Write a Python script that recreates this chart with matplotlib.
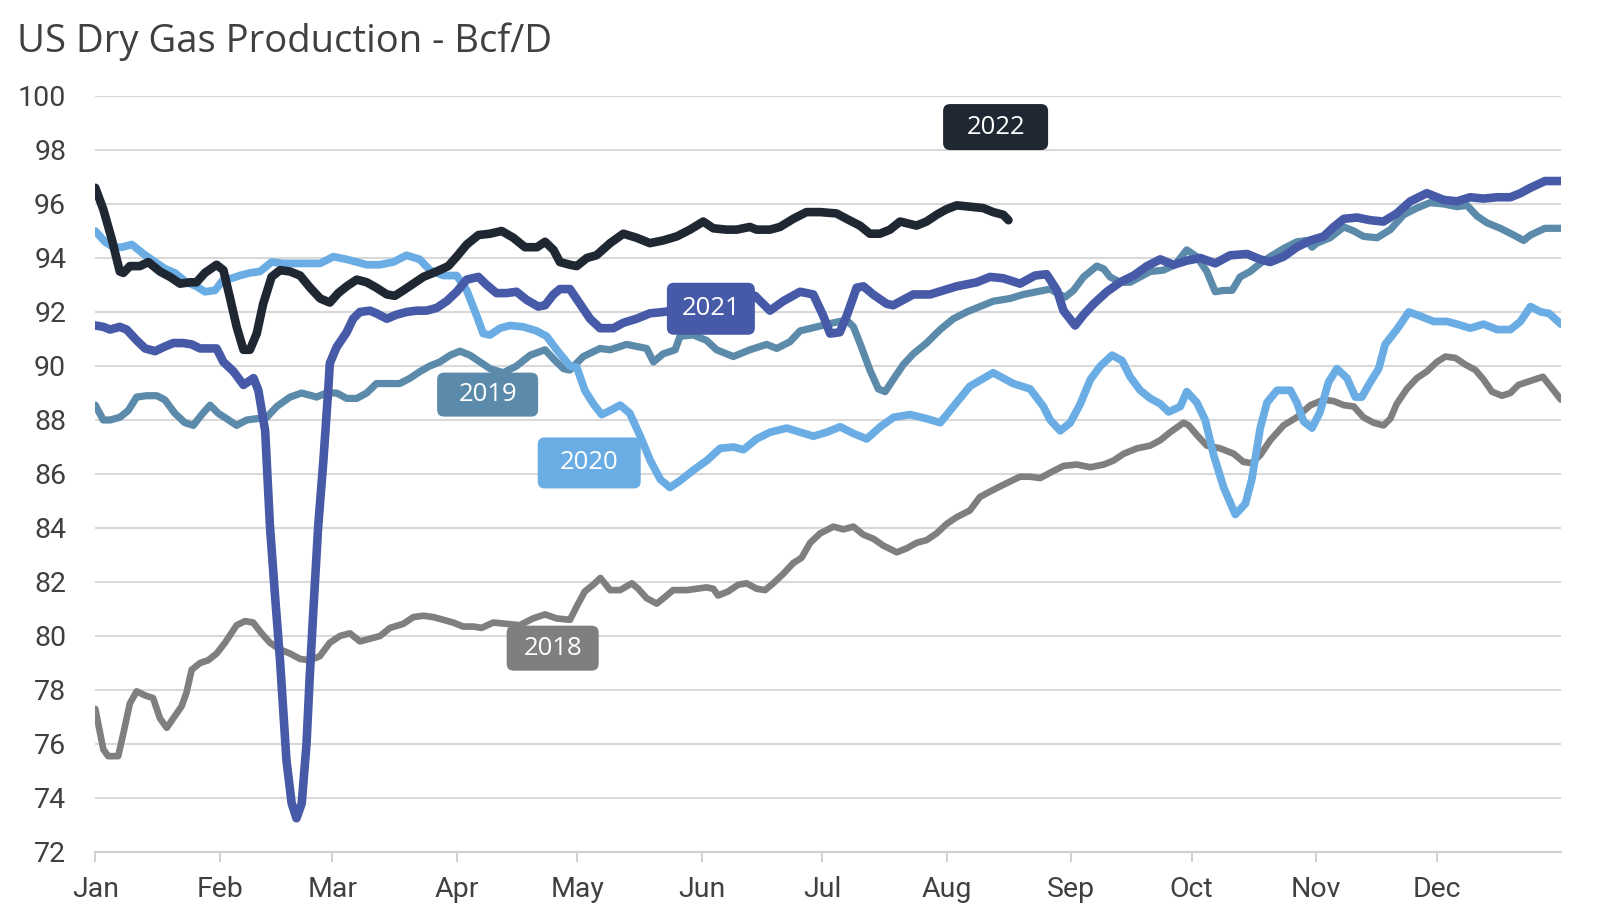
import matplotlib
matplotlib.use("Agg")
import matplotlib.pyplot as plt
from matplotlib.patches import FancyBboxPatch

# day of year -> Bcf/D
days_2018 = [0, 1.2, 2, 3.2, 5.7, 7, 8.6, 10.3, 12.4, 14.4, 16.1, 17.8, 19.4, 21.5, 22.7, 24, 26.1, 28.1,
             30.2, 32.3, 35.2, 37.3, 39.3, 41.4, 43.5, 46, 48.5, 51, 53.4, 55.9, 58.4, 60.9, 63.4, 65.9,
             68.4, 70.9, 73.4, 76.7, 79.2, 81.7, 84.2, 86.6, 89.1, 91.6, 94.1, 96.2, 99.1, 102.4, 105.7,
             109, 112, 114.9, 118.2, 119.9, 121.9, 124, 125.8, 128.2, 130.7, 133.6, 135.2, 137.3, 139.8,
             141.9, 143.9, 147.3, 149.7, 152.2, 153.9, 155.1, 157.6, 160.1, 162.2, 164.7, 166.8, 168.8,
             171.3, 173.8, 175.9, 178, 180.5, 183.8, 186.3, 188.8, 191.3, 193.8, 196.2, 199.6, 202.1,
             204.5, 207, 209.5, 212, 214.5, 217.8, 220.3, 222.8, 226.1, 230.3, 232.8, 235.3, 237.8,
             241.1, 244.4, 247.8, 251.1, 253.6, 256.1, 259.4, 262.7, 265.2, 267.7, 271, 272.3, 274.3,
             276.8, 280.1, 283.5, 285.9, 288, 290.1, 292.6, 295.9, 299.2, 302.6, 305.9, 308.4, 310.9,
             313.4, 315.8, 318.3, 320.8, 322.5, 324.1, 326.6, 329.1, 331.6, 334.1, 336.2, 338.7, 341.2,
             343.7, 345.7, 347.8, 350.3, 352.4, 354.4, 357.4, 360.5, 365]
vals_2018 = [77.3, 76.4, 75.8, 75.55, 75.55, 76.4, 77.5, 77.95, 77.8, 77.7, 76.95, 76.6, 76.95, 77.4, 77.9,
             78.75, 79.0, 79.1, 79.35, 79.75, 80.4, 80.55, 80.5, 80.1, 79.75, 79.5, 79.35, 79.15, 79.1,
             79.25, 79.75, 80.0, 80.1, 79.8, 79.9, 80.0, 80.3, 80.45, 80.7, 80.75, 80.7, 80.6, 80.5,
             80.35, 80.35, 80.3, 80.5, 80.45, 80.4, 80.65, 80.8, 80.65, 80.6, 81.1, 81.65, 81.9, 82.15,
             81.7, 81.7, 81.95, 81.75, 81.4, 81.2, 81.45, 81.7, 81.7, 81.75, 81.8, 81.75, 81.5, 81.65,
             81.9, 81.95, 81.75, 81.7, 81.95, 82.3, 82.7, 82.9, 83.45, 83.8, 84.05, 83.95, 84.05, 83.75,
             83.6, 83.35, 83.1, 83.25, 83.45, 83.55, 83.8, 84.15, 84.4, 84.65, 85.15, 85.35, 85.6, 85.9,
             85.9, 85.85, 86.05, 86.3, 86.35, 86.25, 86.35, 86.5, 86.75, 86.95, 87.05, 87.25, 87.55,
             87.9, 87.8, 87.45, 87.05, 86.95, 86.75, 86.45, 86.4, 86.7, 87.25, 87.8, 88.1, 88.55, 88.75,
             88.7, 88.55, 88.5, 88.1, 87.9, 87.8, 88.05, 88.6, 89.15, 89.55, 89.8, 90.15, 90.35, 90.3,
             90.05, 89.85, 89.5, 89.05, 88.9, 89.0, 89.3, 89.45, 89.6, 88.75]

days_2019 = [0, 2, 3.7, 6.1, 8.2, 10.3, 12.8, 15.3, 17.3, 19.8, 22.3, 24.4, 26.5, 28.6, 30.6, 32.7, 35.2,
             37.7, 40.2, 42.7, 45.2, 48.5, 51.4, 55.1, 57.6, 60.1, 62.6, 65.1, 67.6, 70, 72.6, 75.8,
             78.4, 80.9, 83.3, 85.8, 88.4, 90.8, 93.3, 95.8, 98.3, 101.6, 104.9, 108.3, 112, 114.5,
             116.6, 118.2, 121.5, 125.7, 128.2, 132.3, 137.3, 139, 141.4, 144.4, 145.6, 148.9, 152.2,
             154.7, 158.9, 163, 167.2, 169.7, 173, 175.5, 179.6, 183.8, 187.1, 188.8, 190.4, 192.9, 195,
             196.7, 198.7, 201.2, 203.7, 207, 210.4, 213.7, 217, 220.3, 223.6, 227.8, 231.1, 234.4,
             237.8, 239.5, 241.5, 243.6, 246.1, 249.4, 251.1, 252.7, 255.2, 257.7, 260.2, 262.7, 266,
             268.9, 271.8, 274.3, 276.8, 278.9, 281, 283.1, 285.1, 287.6, 290.1, 292.6, 295.9, 299.2,
             301.7, 303, 304.2, 307.5, 310.9, 313.4, 315.8, 319.2, 322.5, 325.8, 329.1, 332.4, 335.8,
             339.1, 341.6, 344.1, 346.6, 349.9, 353.2, 355.7, 357.4, 361, 365]
vals_2019 = [88.55, 88.0, 88.0, 88.1, 88.35, 88.85, 88.9, 88.9, 88.75, 88.25, 87.9, 87.8, 88.2, 88.55,
             88.25, 88.05, 87.8, 88.0, 88.05, 88.1, 88.5, 88.85, 89.0, 88.85, 89.0, 89.0, 88.8, 88.8,
             89.0, 89.35, 89.35, 89.35, 89.55, 89.8, 90.0, 90.15, 90.4, 90.55, 90.4, 90.15, 89.9, 89.75,
             90.0, 90.4, 90.6, 90.2, 89.9, 89.85, 90.35, 90.65, 90.6, 90.8, 90.65, 90.15, 90.45, 90.6,
             91.1, 91.15, 90.95, 90.6, 90.35, 90.6, 90.8, 90.65, 90.9, 91.3, 91.45, 91.6, 91.7, 91.45,
             90.85, 89.85, 89.15, 89.05, 89.5, 90.05, 90.45, 90.85, 91.35, 91.75, 92.0, 92.2, 92.4, 92.5,
             92.65, 92.75, 92.85, 92.7, 92.55, 92.8, 93.3, 93.7, 93.6, 93.3, 93.1, 93.1, 93.3, 93.5,
             93.55, 93.75, 94.3, 94.05, 93.5, 92.75, 92.8, 92.8, 93.3, 93.5, 93.8, 94.05, 94.35, 94.6,
             94.65, 94.4, 94.55, 94.75, 95.15, 95.0, 94.8, 94.75, 95.05, 95.6, 95.85, 96.05, 96.0, 95.9,
             95.95, 95.55, 95.3, 95.1, 94.85, 94.65, 94.85, 95.1, 95.1]

days_2020 = [0, 2.4, 4.5, 6.6, 9.1, 12, 14.9, 17.4, 19.8, 22.7, 25.2, 27.3, 29.8, 31.9, 34, 36, 38.5, 41,
             43.9, 46.8, 50.1, 53.5, 56, 59.3, 62.6, 65.1, 67.6, 70.9, 74.2, 77.5, 80.8, 83.3, 86.7, 90,
             92.5, 95, 96.6, 98.3, 100.8, 103.2, 106.6, 109.9, 112.4, 114.9, 118.2, 119.9, 121.9, 124,
             126.1, 128.2, 130.7, 133.1, 135.7, 138.2, 140.7, 143.1, 145.6, 149, 152.3, 155.6, 158.9,
             161.4, 164.7, 168.1, 172.2, 175.5, 178.8, 182.2, 185.5, 188.8, 192.1, 195.5, 198.8, 202.9,
             207, 210.4, 213.7, 217.8, 223.6, 228.6, 232.8, 236.1, 237.8, 240.3, 242.8, 245.3, 247.8,
             250.3, 253.2, 255.7, 257.7, 260.2, 262.7, 265.2, 267.3, 270.2, 271.8, 274.3, 276.4, 278.5,
             281, 283.9, 286.4, 288, 290.1, 291.8, 294.3, 297.6, 299.2, 300.9, 303, 305, 307.1, 309.2,
             311.7, 313.8, 315.4, 317.5, 319.6, 321.2, 324.1, 327.1, 329.9, 333.3, 336.6, 339.1, 342.4,
             345.7, 349.1, 352.4, 354.9, 357.4, 360, 362, 365]
vals_2020 = [95.0, 94.6, 94.4, 94.4, 94.5, 94.15, 93.85, 93.6, 93.45, 93.1, 92.95, 92.75, 92.8, 93.2,
             93.25, 93.35, 93.45, 93.5, 93.85, 93.8, 93.8, 93.8, 93.8, 94.05, 93.95, 93.85, 93.75, 93.75,
             93.85, 94.1, 93.95, 93.55, 93.35, 93.35, 92.8, 91.85, 91.2, 91.15, 91.4, 91.5, 91.45, 91.3,
             91.1, 90.6, 90.0, 89.95, 89.1, 88.6, 88.2, 88.35, 88.55, 88.25, 87.4, 86.5, 85.8, 85.5,
             85.75, 86.15, 86.5, 86.95, 87.0, 86.9, 87.3, 87.55, 87.7, 87.55, 87.4, 87.55, 87.75, 87.5,
             87.3, 87.75, 88.1, 88.2, 88.05, 87.9, 88.5, 89.25, 89.75, 89.35, 89.15, 88.5, 88.0, 87.6,
             87.9, 88.6, 89.5, 90.0, 90.4, 90.2, 89.6, 89.1, 88.8, 88.6, 88.3, 88.5, 89.05, 88.65, 88.0,
             86.7, 85.5, 84.5, 84.9, 85.8, 87.7, 88.65, 89.1, 89.1, 88.65, 87.95, 87.7, 88.3, 89.4,
             89.9, 89.55, 88.85, 88.85, 89.4, 89.9, 90.8, 91.35, 92.0, 91.85, 91.65, 91.65, 91.55, 91.4,
             91.55, 91.35, 91.35, 91.65, 92.2, 92.0, 91.95, 91.55]

days_2021 = [0, 2, 3.7, 6.1, 7.8, 10.3, 12.4, 14.9, 17, 19.4, 21.9, 24, 26.1, 28.1, 30.2, 31.9, 34.4,
             36.9, 39.4, 40.6, 42.3, 43.5, 44.7, 46, 47.6, 48.9, 50.1, 51.4, 52.6, 53.4, 54.3, 55.5,
             56.8, 58, 58.4, 60.1, 62.6, 64.2, 65.9, 68.4, 70, 72.6, 75, 77.5, 80, 82.5, 85, 87.5, 90,
             92.5, 95.4, 97.5, 99.9, 102.4, 104.9, 107.4, 110.3, 112, 114.1, 115.7, 118.2, 120.7, 123.2,
             125.7, 129, 131.5, 134.8, 138.1, 141.4, 144, 149, 155, 160, 164.3, 168, 171.3, 175.5, 178.8,
             181.3, 183, 185.4, 187.1, 189.6, 191.3, 193.7, 197.1, 198.7, 201.2, 203.7, 207.9, 211.2,
             214.5, 219.5, 222.8, 226.1, 230.3, 234, 236.9, 239.5, 241.1, 244, 246.1, 248.6, 251.9,
             255.2, 258.6, 261.9, 265.2, 268.5, 271.8, 275.2, 278.9, 282.6, 286.8, 290.1, 292.6, 295.9,
             299.2, 302.6, 305.9, 308.4, 310.9, 314.2, 317.5, 320.8, 324.1, 327.5, 331.6, 335.8, 339.1,
             342.4, 345.7, 349.1, 352.4, 354.9, 357.4, 361, 365]
vals_2021 = [91.5, 91.45, 91.35, 91.45, 91.35, 90.95, 90.65, 90.55, 90.7, 90.85, 90.85, 90.8, 90.65,
             90.65, 90.65, 90.15, 89.8, 89.3, 89.55, 89.1, 87.6, 84.05, 81.6, 79.1, 75.4, 73.8, 73.25,
             73.8, 76.0, 78.5, 80.95, 84.05, 86.5, 89.1, 90.1, 90.7, 91.25, 91.75, 92.0, 92.05, 91.95,
             91.75, 91.9, 92.0, 92.05, 92.05, 92.15, 92.4, 92.75, 93.2, 93.3, 93.0, 92.7, 92.7, 92.75,
             92.45, 92.2, 92.25, 92.65, 92.85, 92.85, 92.3, 91.75, 91.4, 91.4, 91.6, 91.75, 91.95, 92.0,
             92.05, 92.15, 92.25, 92.4, 92.6, 92.05, 92.4, 92.75, 92.65, 91.85, 91.2, 91.25, 91.85, 92.9,
             92.95, 92.65, 92.3, 92.25, 92.45, 92.65, 92.65, 92.8, 92.95, 93.1, 93.3, 93.25, 93.05,
             93.35, 93.4, 92.8, 92.05, 91.5, 91.9, 92.3, 92.75, 93.1, 93.35, 93.7, 93.95, 93.75, 93.9,
             94.0, 93.8, 94.1, 94.15, 93.95, 93.85, 94.05, 94.4, 94.65, 94.8, 95.15, 95.45, 95.5, 95.4,
             95.35, 95.65, 96.1, 96.4, 96.15, 96.1, 96.25, 96.2, 96.25, 96.25, 96.4, 96.6, 96.85, 96.85]

days_2022 = [0, 2, 4.1, 6.1, 7, 8.6, 11.1, 13.2, 16.1, 18.6, 21.1, 23.6, 25.2, 27.3, 30.2, 31.9, 33.5,
             35.2, 36.9, 38.5, 40.2, 41.8, 43.9, 46, 48.5, 51, 53.5, 56, 58.4, 60.5, 62.6, 65.1, 67.6,
             70, 72.6, 74.6, 76.7, 79.2, 81.7, 85, 87.9, 90, 92.5, 95.4, 98.3, 101.2, 104.1, 107, 110,
             112, 114.1, 115.7, 118.2, 119.9, 122.4, 124.8, 128.2, 131.5, 134.8, 138.1, 141.4, 144.8,
             148.1, 151.4, 153.9, 157.2, 159.7, 163, 164.7, 168, 170.5, 173.8, 177.1, 180.5, 184.6,
             187.1, 190.4, 192.9, 195.4, 197.9, 200.4, 204.5, 207, 209.5, 211.9, 214.5, 217.8, 221.1,
             223.6, 226.1, 227.4]
vals_2022 = [96.6, 95.8, 94.7, 93.5, 93.45, 93.7, 93.7, 93.85, 93.5, 93.3, 93.05, 93.1, 93.1, 93.45,
             93.75, 93.55, 92.55, 91.45, 90.6, 90.6, 91.2, 92.3, 93.3, 93.55, 93.5, 93.35, 92.9, 92.5,
             92.35, 92.7, 92.95, 93.2, 93.1, 92.9, 92.65, 92.6, 92.8, 93.05, 93.3, 93.5, 93.7, 94.05,
             94.5, 94.85, 94.9, 95.0, 94.75, 94.4, 94.4, 94.6, 94.3, 93.85, 93.75, 93.7, 94.0, 94.1,
             94.55, 94.9, 94.75, 94.55, 94.65, 94.8, 95.05, 95.35, 95.1, 95.05, 95.05, 95.15, 95.05,
             95.05, 95.15, 95.45, 95.7, 95.7, 95.65, 95.45, 95.2, 94.9, 94.9, 95.05, 95.35, 95.2, 95.35,
             95.6, 95.8, 95.95, 95.9, 95.85, 95.7, 95.6, 95.4]

years = ["2018", "2019", "2020", "2021", "2022"]
colors = ["#7f7f7f", "#5b8aab", "#6aade5", "#475aa8", "#1f2733"]
widths = [4.8, 5.2, 5.6, 6.2, 6.2]
series_days = [days_2018, days_2019, days_2020, days_2021, days_2022]
series_vals = [vals_2018, vals_2019, vals_2020, vals_2021, vals_2022]

# label boxes: (x day, y value, width px, height px)
tags = {"2018": (113.9, 79.55, 92, 45), "2019": (97.7, 88.94, 101, 44), "2020": (123, 86.41, 103, 51),
        "2021": (153.3, 92.12, 88, 52), "2022": (224.2, 98.85, 105, 46)}

month_days = [0, 31, 59, 90, 120, 151, 181, 212, 243, 273, 304, 334]
month_names = ["Jan", "Feb", "Mar", "Apr", "May", "Jun", "Jul", "Aug", "Sep", "Oct", "Nov", "Dec"]

W, H = 1600, 909
fig = plt.figure(figsize=(W / 100, H / 100), dpi=100)
ax_l, ax_r, ax_t, ax_b = 95.3, 1561, 96, 852
ax = fig.add_axes([ax_l / W, 1 - ax_b / H, (ax_r - ax_l) / W, (ax_b - ax_t) / H])

for yr, c, lw, d, v in zip(years, colors, widths, series_days, series_vals):
    ax.plot(d, v, color=c, lw=lw, solid_joinstyle="round", solid_capstyle="round", zorder=3)

ax.set_xlim(0, 365)
ax.set_ylim(72, 100)
ax.set_yticks(range(72, 101, 2))
ax.set_xticks(month_days)
ax.set_xticklabels(month_names)
ax.grid(axis="y", color="#d9d9d9", lw=1.5)
ax.set_axisbelow(True)
for s in ["top", "right", "left"]:
    ax.spines[s].set_visible(False)
ax.spines["bottom"].set_color("#d0d0d0")
ax.spines["bottom"].set_linewidth(1.6)
ax.tick_params(axis="y", length=0, pad=21, labelsize=20.5, labelcolor="#404040")
ax.tick_params(axis="x", length=7, width=1.4, color="#d0d0d0", pad=10, labelsize=20.5, labelcolor="#404040")
for t in ax.get_xticklabels() + ax.get_yticklabels():
    t.set_fontfamily("Roboto")

# rounded label boxes
ppd = (ax_r - ax_l) / 365.0
ppu = (ax_b - ax_t) / 28.0
for yr, c in zip(years, colors):
    x, y, wp, hp = tags[yr]
    w, h = wp / ppd, hp / ppu
    r = 7 / ppd
    box = FancyBboxPatch((x - w / 2, y - h / 2), w, h,
                         boxstyle=f"round,pad=0,rounding_size={r}",
                         mutation_aspect=ppd / ppu, fc=c, ec="none", zorder=5)
    ax.add_patch(box)
    ax.text(x, y, yr, color="white", fontsize=18.5, family="Open Sans",
            ha="center", va="center", zorder=6)

fig.text(17 / W, 1 - 52 / H, "US Dry Gas Production - Bcf/D", fontsize=27.5, family="Open Sans",
         color="#404040", ha="left", va="baseline")

fig.savefig("out.png", dpi=100)
